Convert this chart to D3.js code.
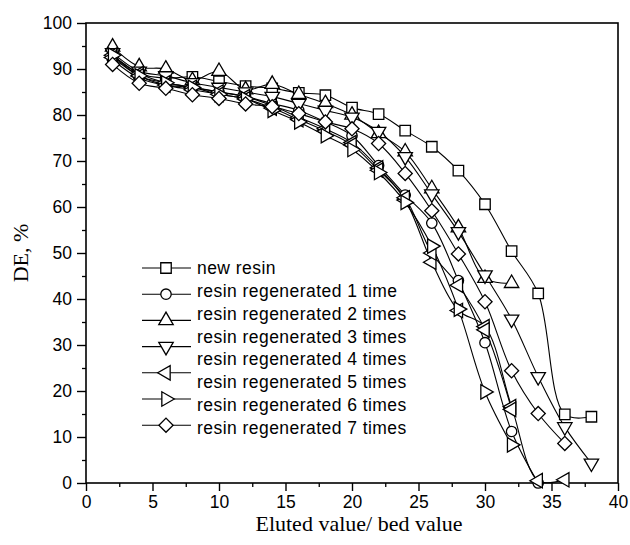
<!DOCTYPE html>
<html><head><meta charset="utf-8">
<script src="https://cdn.jsdelivr.net/npm/d3@7"></script>
<style>body{margin:0;background:#fff}svg{display:block}</style>
</head><body>
<script>
const xValues = [2,4,6,8,10,12,14,16,18,20,22,24,26,28,30,32,34,36,38];
const seriesNames = ["new resin","resin regenerated 1 time","resin regenerated 2 times","resin regenerated 3 times","resin regenerated 4 times","resin regenerated 5 times","resin regenerated 6 times","resin regenerated 7 times"];
const seriesMarkers = ["square","circle","up","down","left","left","right","diamond"];
const newResin = [93,89,88,88.3,87.3,86.3,85.8,84.8,84.3,81.6,80.2,76.6,73.1,67.9,60.6,50.4,41.2,14.9,14.4];
const regen1 = [92,88,86.5,86,85,84,82.5,81,78.5,75.5,69,62.6,56.5,44,30.5,11.2,0];
const regen2 = [94.8,90.5,90,87.5,89.5,85.5,86.7,84.5,82.5,80,76,72,64,55.5,44.5,43.4];
const regen3 = [93.5,89.5,88.5,87,86,85,84,82.5,81,79.5,76.4,70.9,62.8,54.6,45.2,35.6,23.1,12.2,4.3];
const regen4 = [93,89,87,86,85,84,82,79.5,77,74,68.5,61.5,48,37.5,34,16.6,0.5,0.7];
const regen5 = [92.5,88.5,86.5,85.5,84.5,83.5,81.5,79,76.5,73.5,68,62,50,43,33.3,16];
const regen6 = [93,88.5,87,86,84.5,83.5,81,78.5,75.5,72.5,67.5,61,51.5,37.8,19.8,8.3];
const regen7 = [91,86.9,85.8,84.4,83.6,82.4,81.8,80.3,78.5,77,73.8,67.3,59.2,49.8,39.4,24.4,15.1,8.6];
const seriesValues = [newResin,regen1,regen2,regen3,regen4,regen5,regen6,regen7];
const legendSymbols = ["square","circle","up","down","left","right","diamond"];
const xTicks = [0,5,10,15,20,25,30,35,40];
const yTicks = [0,10,20,30,40,50,60,70,80,90,100];
const xTitle = "Eluted value/ bed value";
const yTitle = "DE, %";

const W = 630, H = 545;
const pL = 86, pR = 618, pT = 23, pB = 483;
const svg = d3.select("body").append("svg").attr("width", W).attr("height", H);
const x = d3.scaleLinear().domain([0,40]).range([pL,pR]);
const y = d3.scaleLinear().domain([0,100]).range([pB,pT]);

function markerPath(kind){
  if(kind==="circle") return {d:d3.symbol(d3.symbolCircle, 85)(), r:0};
  if(kind==="square") return {d:d3.symbol(d3.symbolSquare, 110)(), r:0};
  if(kind==="diamond") return {d:d3.symbol(d3.symbolSquare, 100)(), r:45};
  const tri = d3.symbol(d3.symbolTriangle, 90)();
  const rot = {up:0, right:90, down:180, left:270}[kind];
  return {d:tri, r:rot};
}
function drawMarker(g, kind, cx, cy){
  const m = markerPath(kind);
  g.append("path").attr("d", m.d)
   .attr("transform", `translate(${cx},${cy}) rotate(${m.r})`)
   .attr("fill","#fff").attr("stroke","#000").attr("stroke-width",1.3);
}

svg.append("rect").attr("x",pL).attr("y",pT).attr("width",pR-pL).attr("height",pB-pT)
  .attr("fill","none").attr("stroke","#000").attr("stroke-width",1.6);

const xAxis = d3.axisBottom(x).tickValues(xTicks).tickSize(8).tickPadding(5);
const gx = svg.append("g").attr("transform",`translate(0,${pB})`).call(xAxis);
const yAxis = d3.axisLeft(y).tickValues(yTicks).tickSize(9).tickPadding(5);
const gy = svg.append("g").attr("transform",`translate(${pL},0)`).call(yAxis);
[gx,gy].forEach(g=>{
  g.select(".domain").remove();
  g.selectAll("line").attr("stroke","#000").attr("stroke-width",1.4);
  g.selectAll("text").attr("font-family","Liberation Sans, Arial, sans-serif").attr("font-size",17.5).attr("fill","#000");
});
const xMinor = d3.axisBottom(x).tickValues(d3.range(2.5,40,5)).tickSize(4).tickFormat("");
svg.append("g").attr("transform",`translate(0,${pB})`).call(xMinor)
  .call(g=>{g.select(".domain").remove(); g.selectAll("line").attr("stroke","#000").attr("stroke-width",1.3);});
const yMinor = d3.axisLeft(y).tickValues(d3.range(5,100,10)).tickSize(4).tickFormat("");
svg.append("g").attr("transform",`translate(${pL},0)`).call(yMinor)
  .call(g=>{g.select(".domain").remove(); g.selectAll("line").attr("stroke","#000").attr("stroke-width",1.3);});

svg.append("text").attr("x",359).attr("y",531).attr("text-anchor","middle")
  .attr("font-family","Liberation Serif, Times New Roman, serif").attr("font-size",22).text(xTitle);
svg.append("text").attr("transform","translate(28,253) rotate(-90)").attr("text-anchor","middle")
  .attr("font-family","Liberation Serif, Times New Roman, serif").attr("font-size",22).text(yTitle);

const line = d3.line().x(d=>x(d[0])).y(d=>y(d[1])).curve(d3.curveCatmullRom.alpha(0.5));
const plot = svg.append("g");
seriesValues.forEach((vals,i)=>{
  const pts = vals.map((v,j)=>[xValues[j], v]);
  plot.append("path").attr("d", line(pts)).attr("fill","none").attr("stroke","#000").attr("stroke-width",1.1);
});
seriesValues.forEach((vals,i)=>{
  vals.forEach((v,j)=> drawMarker(plot, seriesMarkers[i], x(xValues[j]), y(v)));
});

const lg = svg.append("g");
seriesNames.forEach((name,i)=>{
  lg.append("text").attr("x",197).attr("y",268 + i*22.8).attr("dy","0.35em")
    .attr("font-family","Liberation Sans, Arial, sans-serif").attr("font-size",17.5)
    .attr("letter-spacing","0.45px").text(name);
});
legendSymbols.forEach((k,i)=>{
  const cy = 268 + i*26.2;
  lg.append("line").attr("x1",142).attr("x2",191).attr("y1",cy).attr("y2",cy).attr("stroke","#000").attr("stroke-width",1.1);
  drawMarker(lg, k, 166, cy);
});
</script>
</body></html>
